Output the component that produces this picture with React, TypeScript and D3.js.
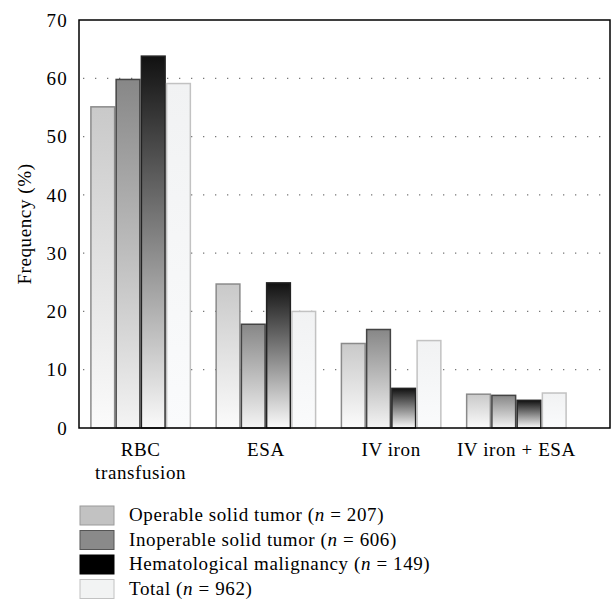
import React, { useRef, useEffect } from 'react';
import * as d3 from 'd3';

const categories = ['RBC transfusion', 'ESA', 'IV iron', 'IV iron + ESA'];
const seriesNames = ['Operable solid tumor', 'Inoperable solid tumor', 'Hematological malignancy', 'Total'];
const seriesN = [207, 606, 149, 962];
const operable = [55.1, 24.7, 14.5, 5.8];
const inoperable = [59.8, 17.8, 16.9, 5.6];
const hematological = [63.8, 24.9, 6.8, 4.75];
const total = [59.1, 20.0, 15.0, 6.0];
const yTicks = [0, 10, 20, 30, 40, 50, 60, 70];

const seriesValues = [operable, inoperable, hematological, total];

// gradient top / bottom, bar stroke, legend fill
const styles = [
  { top: '#c9c9c9', bottom: '#fbfbfb', stroke: '#8a8a8a', legend: '#c2c2c2', legendStroke: '#9a9a9a' },
  { top: '#878787', bottom: '#f4f4f4', stroke: '#444', legend: '#8a8a8a', legendStroke: '#555' },
  { top: '#111', bottom: '#fafafa', stroke: '#222', legend: '#000', legendStroke: '#000' },
  { top: '#f1f2f3', bottom: '#fafbfc', stroke: '#c2c2c2', legend: '#f2f3f3', legendStroke: '#c2c2c2' },
];

const App = () => {
  const ref = useRef(null);

  useEffect(() => {
    document.body.style.margin = '0';
    const svg = d3.select(ref.current);
    svg.selectAll('*').remove();

    const font = '"Liberation Serif", "Times New Roman", serif';
    const fs = 19, ls = 0.6;
    const left = 79, right = 610, top = 20, bottom = 428;

    const y = d3.scaleLinear().domain([0, 70]).range([bottom, top]);
    const x0 = d3.scaleBand().domain(categories).range([78, 579]).paddingInner(0.194).paddingOuter(0.097);
    const x1 = d3.scaleBand().domain(seriesNames).range([0, x0.bandwidth()]);

    const defs = svg.append('defs');
    styles.forEach((s, i) => {
      const g = defs.append('linearGradient').attr('id', 'grad' + i)
        .attr('x1', 0).attr('y1', 0).attr('x2', 0).attr('y2', 1);
      g.append('stop').attr('offset', '0%').attr('stop-color', s.top);
      g.append('stop').attr('offset', '100%').attr('stop-color', s.bottom);
    });

    // grid
    svg.append('g').selectAll('line')
      .data(yTicks.filter(t => t > 0 && t < 70))
      .enter().append('line')
      .attr('x1', left + 4).attr('x2', right)
      .attr('y1', d => y(d)).attr('y2', d => y(d))
      .attr('stroke', '#777').attr('stroke-width', 1.3)
      .attr('stroke-dasharray', '1.3 10.7');

    // bars
    const groups = svg.append('g').selectAll('g')
      .data(categories).enter().append('g')
      .attr('transform', d => `translate(${x0(d)},0)`);

    groups.selectAll('rect')
      .data((d, ci) => seriesNames.map((s, si) => ({ s, si, v: seriesValues[si][ci] })))
      .enter().append('rect')
      .attr('x', d => x1(d.s) + 0.75)
      .attr('width', x1.bandwidth() - 1.5)
      .attr('y', d => y(d.v))
      .attr('height', d => bottom - y(d.v))
      .attr('fill', d => `url(#grad${d.si})`)
      .attr('stroke', d => styles[d.si].stroke)
      .attr('stroke-width', 1.5);

    // frame
    svg.append('rect')
      .attr('x', left).attr('y', top)
      .attr('width', right - left).attr('height', bottom - top)
      .attr('fill', 'none').attr('stroke', '#000').attr('stroke-width', 1.5);

    // y tick labels
    svg.append('g').selectAll('text')
      .data(yTicks).enter().append('text')
      .attr('x', 68).attr('y', d => y(d))
      .attr('dy', '0.35em')
      .attr('text-anchor', 'end')
      .attr('font-family', font).attr('font-size', fs).attr('letter-spacing', 1.2)
      .text(d => d);

    svg.append('text')
      .attr('transform', `translate(31,${(top + bottom) / 2}) rotate(-90)`)
      .attr('text-anchor', 'middle')
      .attr('font-family', font).attr('font-size', fs).attr('letter-spacing', ls)
      .text('Frequency (%)');

    // x labels
    const xl = svg.append('g').selectAll('text')
      .data(categories).enter().append('text')
      .attr('x', d => x0(d) + x0.bandwidth() / 2)
      .attr('y', 456)
      .attr('text-anchor', 'middle')
      .attr('font-family', font).attr('font-size', fs).attr('letter-spacing', ls);
    xl.each(function (d) {
      const t = d3.select(this);
      if (d === 'RBC transfusion') {
        t.append('tspan').attr('x', x0(d) + x0.bandwidth() / 2).text('RBC');
        t.append('tspan').attr('x', x0(d) + x0.bandwidth() / 2).attr('dy', 23).text('transfusion');
      } else {
        t.text(d);
      }
    });

    // legend
    const lg = svg.append('g').selectAll('g')
      .data(seriesNames).enter().append('g')
      .attr('transform', (d, i) => `translate(80,${506 + i * 24.5})`);
    lg.append('rect')
      .attr('width', 34).attr('height', 19)
      .attr('fill', (d, i) => styles[i].legend)
      .attr('stroke', (d, i) => styles[i].legendStroke)
      .attr('stroke-width', 1);
    const lt = lg.append('text')
      .attr('x', 49).attr('y', 15)
      .attr('font-family', font).attr('font-size', fs).attr('letter-spacing', ls);
    lt.append('tspan').text((d) => d + ' (');
    lt.append('tspan').attr('font-style', 'italic').text('n');
    lt.append('tspan').text((d, i) => ' = ' + seriesN[i] + ')');
  }, []);

  return <svg ref={ref} width={614} height={609} style={{ display: 'block' }}></svg>;
};

export default App;
